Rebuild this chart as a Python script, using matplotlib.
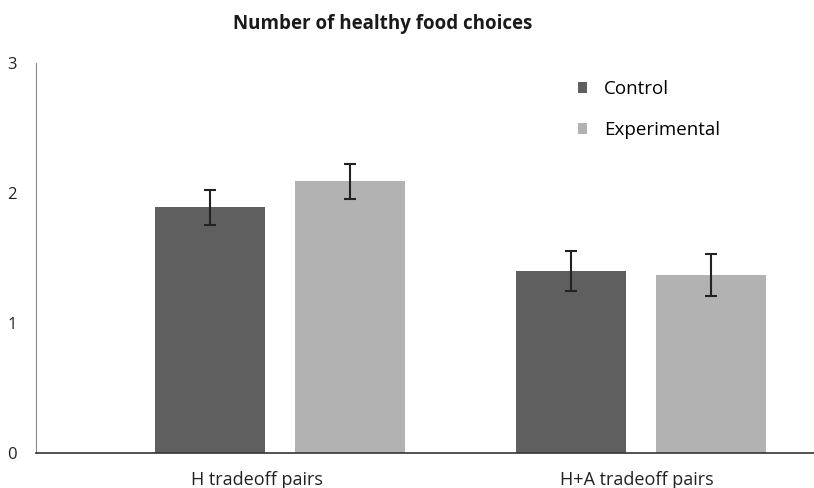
import numpy as np
import matplotlib
matplotlib.use("Agg")
import matplotlib.pyplot as plt

plt.rcParams['font.family'] = ['Open Sans', 'DejaVu Sans']

groups = ["H tradeoff pairs", "H+A tradeoff pairs"]
control = [1.89, 1.40]
control_err = [0.135, 0.155]
experimental = [2.09, 1.37]
experimental_err = [0.135, 0.16]

fig = plt.figure(figsize=(8.14, 4.88), dpi=100)
ax = fig.add_axes([0.0442, 0.0717, 0.9558, 0.7991])

x = np.arange(len(groups))
w = 0.305
off = 0.194
ax.bar(x - off, control, w, color="#5f5f5f", label="Control",
       yerr=control_err, capsize=4, error_kw=dict(ecolor="#222222", elinewidth=1.5, capthick=1.5))
ax.bar(x + off, experimental, w, color="#b2b2b2", label="Experimental",
       yerr=experimental_err, capsize=4, error_kw=dict(ecolor="#222222", elinewidth=1.5, capthick=1.5))

ax.set_xlim(-0.678, 1.48)
ax.set_ylim(0, 3)
ax.set_yticks([0, 1, 2, 3])
# category labels sit a little left of the bar pairs, as in the original
ax.set_xticks(x + np.array([-0.064, -0.012]))
ax.set_xticklabels(groups, fontsize=13, color="#222222")
ax.tick_params(axis="y", length=0, pad=14, labelsize=12, colors="#222222")
ax.tick_params(axis="x", length=0, pad=13)

for s in ["top", "right"]:
    ax.spines[s].set_visible(False)
ax.spines["left"].set_color("#8a8a8a")
ax.spines["bottom"].set_color("#333333")
ax.spines["bottom"].set_linewidth(1.2)

ax.set_title("Number of healthy food choices", fontsize=13.5, fontweight="bold",
             color="#1a1a1a", x=0.446, y=1.065)

ax.legend(loc="upper left", bbox_to_anchor=(0.675, 1.0), frameon=False, fontsize=13.5,
          handlelength=0.5, handleheight=0.5, handletextpad=0.9, labelspacing=1.25)

fig.savefig("out.png", dpi=100)
